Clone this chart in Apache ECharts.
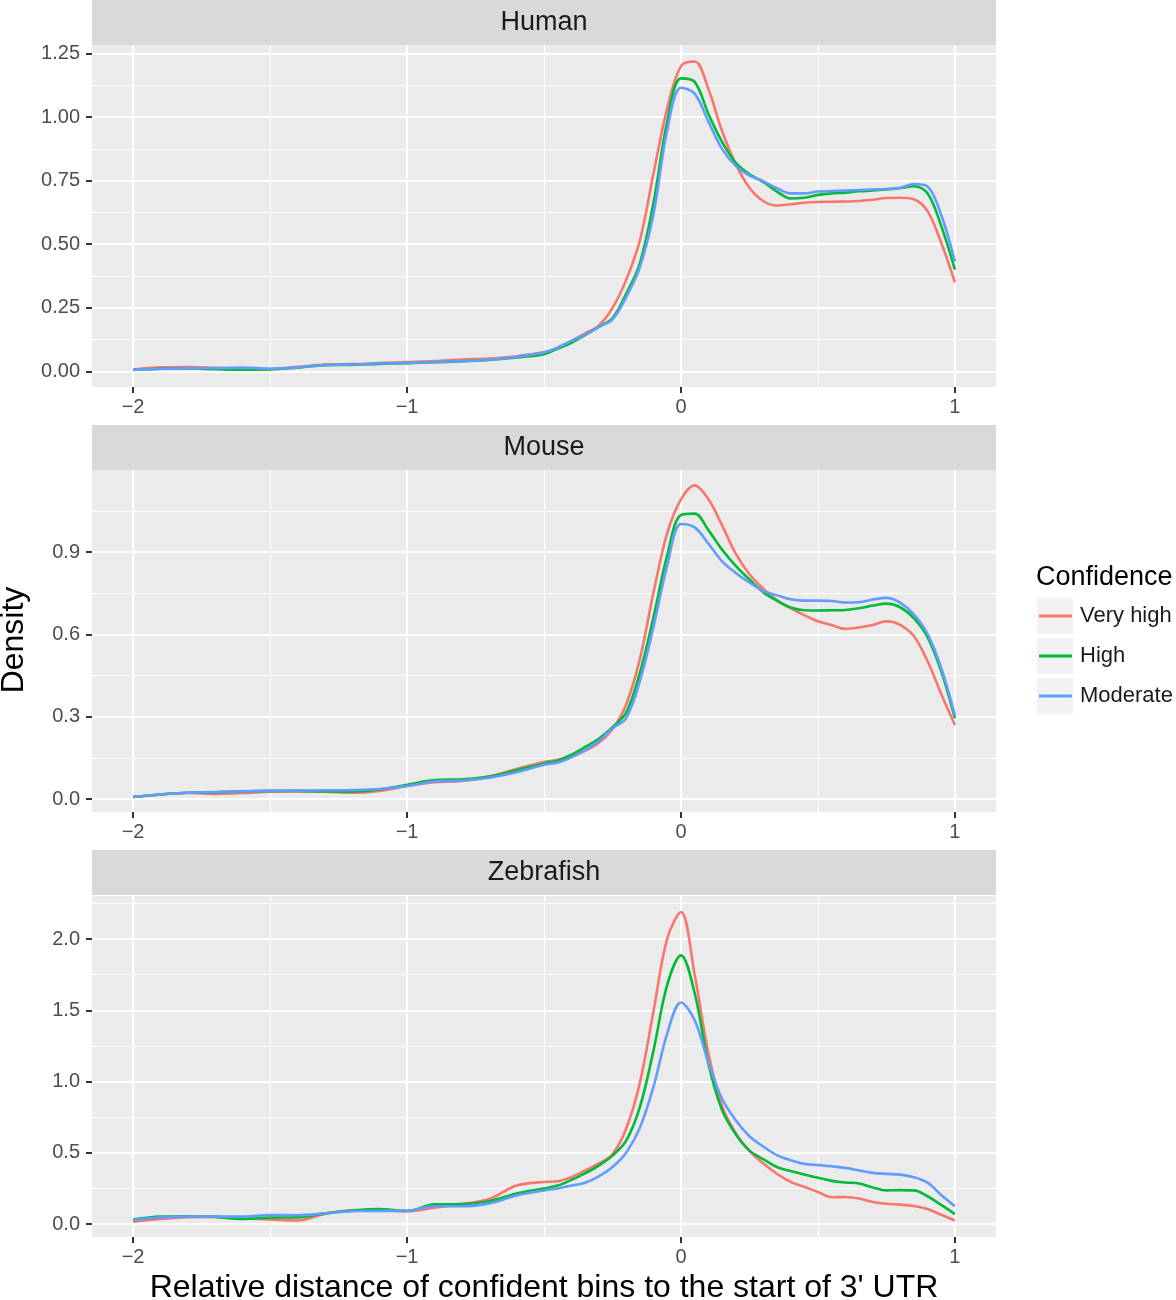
<!DOCTYPE html>
<html><head><meta charset="utf-8">
<script src="https://cdn.jsdelivr.net/npm/echarts@6/dist/echarts.min.js"></script>
<style>html,body{margin:0;padding:0;background:#fff}#c{width:1176px;height:1300px}</style>
</head><body><div id="c"></div>
<script>
// ---- data ----
const xs = [-2.0,-1.9,-1.8,-1.7,-1.6,-1.5,-1.4,-1.3,-1.2,-1.1,-1.0,-0.9,-0.8,-0.7,-0.6,-0.5,
  -0.45,-0.4,-0.35,-0.3,-0.25,-0.2,-0.15,-0.1,-0.05,0,0.05,0.1,0.15,0.2,0.25,0.3,0.35,0.4,0.45,0.5,
  0.55,0.6,0.65,0.7,0.75,0.8,0.85,0.9,0.95,1.0];

const humanVeryHigh = [0.008,0.016,0.017,0.014,0.012,0.010,0.018,0.027,0.029,0.033,0.037,0.041,0.047,0.051,0.060,0.075,
  0.090,0.120,0.150,0.180,0.250,0.360,0.515,0.780,1.035,1.200,1.218,1.110,0.945,0.815,0.722,0.670,0.652,0.657,0.663,0.666,
  0.667,0.668,0.670,0.675,0.682,0.683,0.677,0.630,0.506,0.350];
const humanHigh = [0.006,0.011,0.012,0.009,0.007,0.008,0.015,0.025,0.026,0.030,0.033,0.036,0.040,0.045,0.055,0.068,
  0.090,0.113,0.143,0.175,0.210,0.305,0.425,0.664,0.983,1.152,1.138,1.012,0.902,0.820,0.775,0.745,0.707,0.680,0.683,0.694,
  0.700,0.703,0.708,0.711,0.715,0.720,0.728,0.700,0.572,0.400];
const humanModerate = [0.007,0.010,0.012,0.013,0.015,0.011,0.016,0.025,0.027,0.031,0.034,0.037,0.041,0.046,0.058,0.075,
  0.094,0.120,0.145,0.175,0.205,0.292,0.410,0.621,0.950,1.115,1.092,0.982,0.875,0.808,0.770,0.748,0.720,0.700,0.700,0.707,
  0.709,0.711,0.713,0.715,0.717,0.722,0.737,0.727,0.615,0.432];

const mouseVeryHigh = [0.008,0.017,0.022,0.019,0.022,0.027,0.028,0.027,0.023,0.030,0.048,0.062,0.066,0.083,0.110,0.135,
  0.143,0.158,0.176,0.205,0.255,0.345,0.510,0.755,0.970,1.092,1.143,1.093,0.997,0.894,0.819,0.767,0.725,0.696,0.670,0.648,
  0.634,0.620,0.625,0.634,0.648,0.635,0.594,0.503,0.383,0.270];
const mouseHigh = [0.008,0.017,0.023,0.025,0.028,0.030,0.030,0.028,0.027,0.035,0.052,0.069,0.072,0.082,0.105,0.130,
  0.140,0.162,0.190,0.220,0.262,0.315,0.460,0.664,0.889,1.035,1.040,0.980,0.909,0.850,0.800,0.754,0.723,0.698,0.688,0.687,
  0.688,0.689,0.695,0.705,0.712,0.699,0.659,0.590,0.466,0.294];
const mouseModerate = [0.008,0.017,0.023,0.026,0.028,0.030,0.031,0.032,0.033,0.037,0.048,0.064,0.068,0.078,0.098,0.125,
  0.133,0.152,0.178,0.212,0.258,0.295,0.430,0.630,0.852,1.002,0.990,0.931,0.866,0.824,0.789,0.758,0.743,0.728,0.723,0.723,
  0.722,0.716,0.717,0.727,0.733,0.716,0.673,0.602,0.478,0.306];

const zebrafishVeryHigh = [0.016,0.035,0.048,0.050,0.040,0.032,0.025,0.070,0.097,0.096,0.090,0.115,0.140,0.175,0.270,0.295,
  0.300,0.330,0.375,0.425,0.490,0.670,0.992,1.497,2.004,2.190,1.750,1.200,0.827,0.638,0.514,0.426,0.353,0.296,0.261,0.225,
  0.188,0.190,0.179,0.155,0.142,0.136,0.126,0.105,0.065,0.025];
const zebrafishHigh = [0.032,0.052,0.055,0.050,0.035,0.045,0.047,0.075,0.095,0.105,0.092,0.138,0.140,0.160,0.215,0.250,
  0.270,0.310,0.355,0.410,0.480,0.585,0.820,1.220,1.680,1.885,1.620,1.125,0.800,0.630,0.515,0.456,0.400,0.372,0.347,0.325,
  0.303,0.292,0.285,0.257,0.236,0.238,0.236,0.195,0.134,0.070];
const zebrafishModerate = [0.028,0.047,0.052,0.052,0.052,0.063,0.062,0.075,0.090,0.093,0.092,0.125,0.125,0.145,0.200,0.235,
  0.250,0.270,0.290,0.335,0.400,0.500,0.675,0.965,1.338,1.555,1.430,1.134,0.879,0.728,0.616,0.544,0.484,0.448,0.422,0.414,
  0.405,0.394,0.376,0.359,0.352,0.347,0.329,0.290,0.204,0.125];

const panels = ['Human','Mouse','Zebrafish'];
const confidence = ['Very high','High','Moderate'];
const panelSeries = [
  [humanVeryHigh, humanHigh, humanModerate],
  [mouseVeryHigh, mouseHigh, mouseModerate],
  [zebrafishVeryHigh, zebrafishHigh, zebrafishModerate]
];
const xTicks = [-2,-1,0,1];
const xMinor = [-1.5,-0.5,0.5];
const humanTicks = [0,0.25,0.5,0.75,1.0,1.25];
const humanMinor = [0.125,0.375,0.625,0.875,1.125];
const mouseTicks = [0,0.3,0.6,0.9];
const mouseMinor = [0.15,0.45,0.75,1.05];
const zebrafishTicks = [0,0.5,1.0,1.5,2.0];
const zebrafishMinor = [0.25,0.75,1.25,1.75,2.25];
const yTicks = [humanTicks, mouseTicks, zebrafishTicks];
const yMinor = [humanMinor, mouseMinor, zebrafishMinor];
const yDecimals = [2,1,1];

// ---- layout / style ----
const colors = ['#F8766D','#00BA38','#619CFF'];
const FONT = '"Liberation Sans", Arial, Helvetica, sans-serif';
const gridTop = [45, 470, 896];
const gridHeight = [342, 342, 341];
const stripTop = [0, 425, 850];
const yRange = [[-0.061,1.283],[-0.047,1.199],[-0.091,2.302]];
const xRange = [-2.15, 1.15];
const PL = 92, PW = 904;

const grids = [], xAxes = [], yAxes = [], series = [], graphics = [];
const minus = v => String(v).replace('-', '\u2212');

panels.forEach((p, i) => {
  grids.push({left: PL, top: gridTop[i], width: PW, height: gridHeight[i], show: true,
    backgroundColor: '#EBEBEB', borderWidth: 0, containLabel: false});
  xAxes.push({gridIndex: i, type: 'value', min: xRange[0], max: xRange[1], position: 'bottom',
    axisLine: {show: false, onZero: false},
    axisTick: {show: true, length: 6, lineStyle: {color: '#333333', width: 2}, customValues: xTicks},
    axisLabel: {customValues: xTicks, formatter: v => minus(v), color: '#4D4D4D', fontSize: 20, margin: 10, fontFamily: FONT},
    splitLine: {show: true, lineStyle: {color: '#FFFFFF', width: 2}}});
  xAxes.push({gridIndex: i, type: 'value', min: xRange[0], max: xRange[1], position: 'top',
    axisLine: {show: false, onZero: false},
    axisTick: {show: false, customValues: xMinor},
    axisLabel: {show: false, customValues: xMinor},
    splitLine: {show: true, lineStyle: {color: '#FFFFFF', width: 1.1}}});
  yAxes.push({gridIndex: i, type: 'value', min: yRange[i][0], max: yRange[i][1], position: 'left',
    axisLine: {show: false, onZero: false},
    axisTick: {show: true, length: 6, lineStyle: {color: '#333333', width: 2}, customValues: yTicks[i]},
    axisLabel: {customValues: yTicks[i], formatter: v => Number(v).toFixed(yDecimals[i]), color: '#4D4D4D', fontSize: 20, margin: 12, fontFamily: FONT},
    splitLine: {show: true, lineStyle: {color: '#FFFFFF', width: 2}}});
  yAxes.push({gridIndex: i, type: 'value', min: yRange[i][0], max: yRange[i][1], position: 'right',
    axisLine: {show: false, onZero: false},
    axisTick: {show: false, customValues: yMinor[i]},
    axisLabel: {show: false, customValues: yMinor[i]},
    splitLine: {show: true, lineStyle: {color: '#FFFFFF', width: 1.1}}});

  panelSeries[i].forEach((arr, j) => {
    series.push({type: 'line', name: confidence[j], xAxisIndex: 2*i, yAxisIndex: 2*i,
      data: xs.map((x, k) => [x, arr[k]]), smooth: 0.35, showSymbol: false, symbol: 'none',
      lineStyle: {color: colors[j], width: 2.6}, itemStyle: {color: colors[j]}, z: 3 + j,
      emphasis: {disabled: true}, animation: false});
  });

  graphics.push({type: 'rect', left: PL, top: stripTop[i], shape: {width: PW, height: 45},
    style: {fill: '#D9D9D9'}, z: 1});
  graphics.push({type: 'text', x: PL + PW/2, y: stripTop[i] + 23, z: 2,
    style: {text: p, fill: '#1A1A1A', font: '27px ' + FONT, textAlign: 'center', textVerticalAlign: 'middle'}});
});

// legend key backgrounds
[598, 638, 678].forEach(y => graphics.push({type: 'rect', left: 1037, top: y, shape: {width: 36, height: 36},
  style: {fill: '#F2F2F2'}, z: 0}));
graphics.push({type: 'text', x: 1036, y: 578, z: 2,
  style: {text: 'Confidence', fill: '#000000', font: '27px ' + FONT, textAlign: 'left', textVerticalAlign: 'middle'}});
graphics.push({type: 'text', x: 14, y: 640, rotation: Math.PI/2, z: 2,
  style: {text: 'Density', fill: '#000000', font: '32px ' + FONT, textAlign: 'center', textVerticalAlign: 'middle'}});
graphics.push({type: 'text', x: PL + PW/2, y: 1288, z: 2,
  style: {text: "Relative distance of confident bins to the start of 3' UTR", fill: '#000000', font: '32px ' + FONT,
    textAlign: 'center', textVerticalAlign: 'middle'}});

const chart = echarts.init(document.getElementById('c'), null, {renderer: 'canvas'});
chart.setOption({
  backgroundColor: '#FFFFFF',
  animation: false,
  grid: grids, xAxis: xAxes, yAxis: yAxes, series: series,
  legend: {data: confidence, orient: 'vertical', left: 1039, top: 605, padding: 0,
    icon: 'rect', itemWidth: 33, itemHeight: 3, itemGap: 18, selectedMode: false,
    textStyle: {fontSize: 22, lineHeight: 22, color: '#1A1A1A', fontFamily: FONT, padding: [0,0,0,3]}},
  graphic: graphics
});
</script></body></html>
